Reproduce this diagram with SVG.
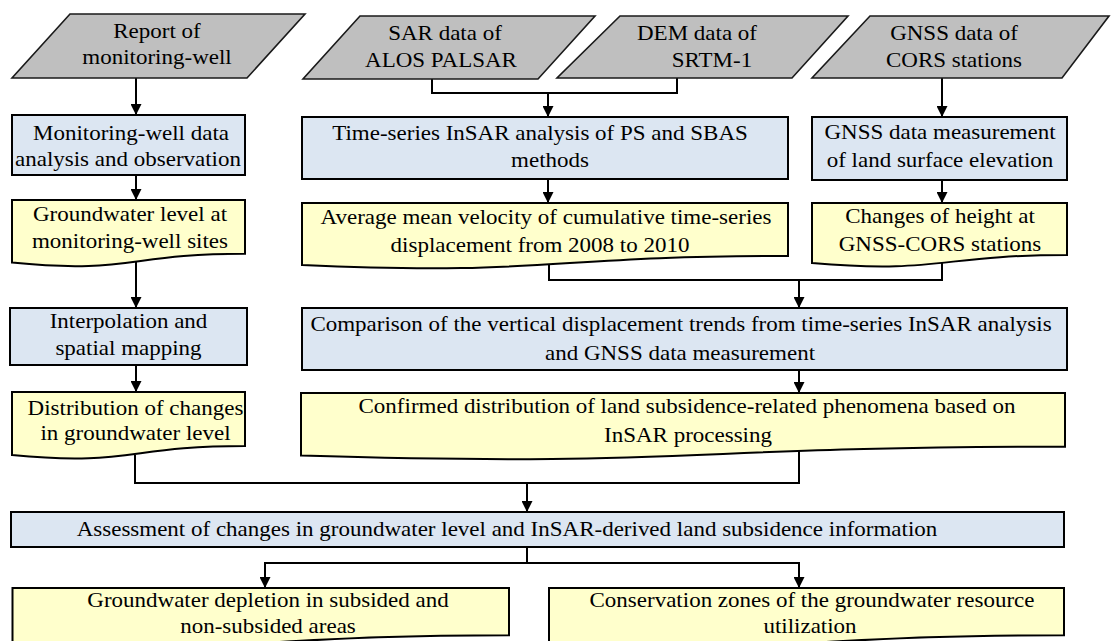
<svg xmlns="http://www.w3.org/2000/svg" width="1111" height="641" viewBox="0 0 1111 641">
<style>
.t{font-size:21.5px;text-anchor:middle;fill:#000}
.in{fill:#bfbfbf;stroke:#1a1a1a;stroke-width:1.6}
.pr{fill:#dce6f2;stroke:#000;stroke-width:2}
.doc{fill:#ffffcc;stroke:#000;stroke-width:2}
.c{fill:none;stroke:#000;stroke-width:2}
</style>
<defs>
<marker id="ah" viewBox="0 0 10 10" refX="10" refY="5" markerWidth="12" markerHeight="11" markerUnits="userSpaceOnUse" orient="auto"><path d="M0,0 L10,5 L0,10 z" fill="#000"/></marker>
</defs>
<rect width="1111" height="641" fill="#fff"/>
<g id="connectors">
<path class="c" d="M136,78 V115" marker-end="url(#ah)"/>
<path class="c" d="M432,79 V93 H677 V78"/>
<path class="c" d="M548,93 V117" marker-end="url(#ah)"/>
<path class="c" d="M942,78 V117" marker-end="url(#ah)"/>
<path class="c" d="M136,175 V200" marker-end="url(#ah)"/>
<path class="c" d="M548,179 V203" marker-end="url(#ah)"/>
<path class="c" d="M942,180 V203" marker-end="url(#ah)"/>
<path class="c" d="M136,262 V308" marker-end="url(#ah)"/>
<path class="c" d="M549,262 V280 H942 V258"/>
<path class="c" d="M799,280 V308" marker-end="url(#ah)"/>
<path class="c" d="M136,365 V392" marker-end="url(#ah)"/>
<path class="c" d="M799,370 V393" marker-end="url(#ah)"/>
<path class="c" d="M135,455 V483 H799 V450"/>
<path class="c" d="M527,483 V512" marker-end="url(#ah)"/>
<path class="c" d="M527,547 V563 H265 V588" marker-end="url(#ah)"/>
<path class="c" d="M527,563 H799 V588" marker-end="url(#ah)"/>
</g>
<g font-family="'Liberation Serif', 'Times New Roman', 'DejaVu Serif', serif">
<g id="in-report">
<polygon class="in" points="70,14 305,14 247,78 12,78"/>
<text class="t" transform="translate(157 0) scale(1.07 1)" x="0" y="38">Report of</text>
<text class="t" transform="translate(157 0) scale(1.07 1)" x="0" y="64.5">monitoring-well</text>
</g>
<g id="in-sar">
<polygon class="in" points="360,16 595,16 538,79 303,79"/>
<text class="t" transform="translate(445 0) scale(1.07 1)" x="0" y="40">SAR data of</text>
<text class="t" transform="translate(441 0) scale(1.07 1)" x="0" y="67">ALOS PALSAR</text>
</g>
<g id="in-dem">
<polygon class="in" points="620,16 848,16 792,78 557,78"/>
<text class="t" transform="translate(697 0) scale(1.07 1)" x="0" y="40">DEM data of</text>
<text class="t" transform="translate(712 0) scale(1.07 1)" x="0" y="67">SRTM-1</text>
</g>
<g id="in-gnss">
<polygon class="in" points="870,16 1109,16 1062,78 812,78"/>
<text class="t" transform="translate(954 0) scale(1.07 1)" x="0" y="40">GNSS data of</text>
<text class="t" transform="translate(954 0) scale(1.07 1)" x="0" y="67">CORS stations</text>
</g>
<g id="p-well">
<rect class="pr" x="12" y="115" width="233" height="60"/>
<text class="t" transform="translate(131 0) scale(1.07 1)" x="0" y="140">Monitoring-well data</text>
<text class="t" transform="translate(128 0) scale(1.07 1)" x="0" y="166.5">analysis and observation</text>
</g>
<g id="p-insar">
<rect class="pr" x="302" y="117" width="486" height="62"/>
<text class="t" transform="translate(540 0) scale(1.07 1)" x="0" y="140">Time-series InSAR analysis of PS and SBAS</text>
<text class="t" transform="translate(550 0) scale(1.07 1)" x="0" y="167">methods</text>
</g>
<g id="p-gnss">
<rect class="pr" x="812" y="117" width="255" height="63"/>
<text class="t" transform="translate(940 0) scale(1.07 1)" x="0" y="139">GNSS data measurement</text>
<text class="t" transform="translate(940 0) scale(1.07 1)" x="0" y="167">of land surface elevation</text>
</g>
<g id="d-gwl">
<path class="doc" d="M12,200 H245 V253.7 C128.5,253.7 128.5,274.2 12,262.6 Z"/>
<text class="t" transform="translate(130 0) scale(1.07 1)" x="0" y="221">Groundwater level at</text>
<text class="t" transform="translate(130 0) scale(1.07 1)" x="0" y="248">monitoring-well sites</text>
</g>
<g id="d-velocity">
<path class="doc" d="M302,203 H788 V256 C545,256 545,276 302,265 Z"/>
<text class="t" transform="translate(546 0) scale(1.07 1)" x="0" y="224">Average mean velocity of cumulative time-series</text>
<text class="t" transform="translate(540 0) scale(1.07 1)" x="0" y="252">displacement from 2008 to 2010</text>
</g>
<g id="d-height">
<path class="doc" d="M812,203 H1067 V255 C939.5,255 939.5,274 812,263 Z"/>
<text class="t" transform="translate(940 0) scale(1.07 1)" x="0" y="223">Changes of height at</text>
<text class="t" transform="translate(940 0) scale(1.07 1)" x="0" y="251">GNSS-CORS stations</text>
</g>
<g id="p-interp">
<rect class="pr" x="10" y="308" width="237" height="57"/>
<text class="t" transform="translate(128.5 0) scale(1.07 1)" x="0" y="328">Interpolation and</text>
<text class="t" transform="translate(128.5 0) scale(1.07 1)" x="0" y="355">spatial mapping</text>
</g>
<g id="p-compare">
<rect class="pr" x="302" y="308" width="765" height="62"/>
<text class="t" transform="translate(681 0) scale(1.07 1)" x="0" y="331.5">Comparison of the vertical displacement trends from time-series InSAR analysis</text>
<text class="t" transform="translate(680 0) scale(1.07 1)" x="0" y="360">and GNSS data measurement</text>
</g>
<g id="d-distribution">
<path class="doc" d="M12,392 H245 V446 C128.5,446 128.5,466.5 12,455 Z"/>
<text class="t" transform="translate(135.5 0) scale(1.07 1)" x="0" y="415">Distribution of changes</text>
<text class="t" transform="translate(135.5 0) scale(1.07 1)" x="0" y="440">in groundwater level</text>
</g>
<g id="d-confirmed">
<path class="doc" d="M301,393 H1065 V446.7 C683,446.7 683,467.2 301,455.6 Z"/>
<text class="t" transform="translate(687 0) scale(1.07 1)" x="0" y="413">Confirmed distribution of land subsidence-related phenomena based on</text>
<text class="t" transform="translate(688 0) scale(1.07 1)" x="0" y="442">InSAR processing</text>
</g>
<g id="p-assess">
<rect class="pr" x="11" y="512" width="1053" height="35"/>
<text class="t" transform="translate(507 0) scale(1.07 1)" x="0" y="536.5">Assessment of changes in groundwater level and InSAR-derived land subsidence information</text>
</g>
<g id="d-depletion">
<path class="doc" d="M12.5,588 H509 V635.3 C260.7,635.3 260.7,653.3 12.5,643 Z"/>
<text class="t" transform="translate(268 0) scale(1.07 1)" x="0" y="607">Groundwater depletion in subsided and</text>
<text class="t" transform="translate(268 0) scale(1.07 1)" x="0" y="633">non-subsided areas</text>
</g>
<g id="d-conservation">
<path class="doc" d="M549,588 H1064 V635.3 C806.5,635.3 806.5,653.3 549,643 Z"/>
<text class="t" transform="translate(812 0) scale(1.07 1)" x="0" y="607">Conservation zones of the groundwater resource</text>
<text class="t" transform="translate(810 0) scale(1.07 1)" x="0" y="633">utilization</text>
</g>
</g>
</svg>
